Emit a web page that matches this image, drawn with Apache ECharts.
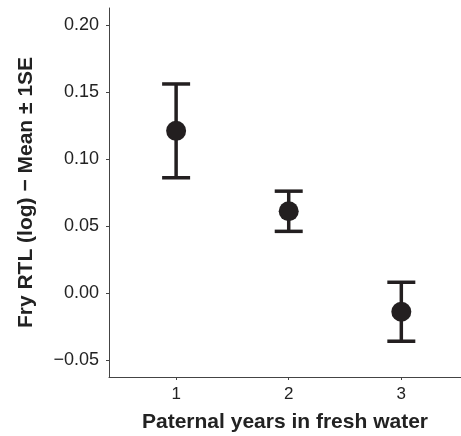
<!DOCTYPE html>
<html>
<head>
<meta charset="utf-8">
<script src="https://cdn.jsdelivr.net/npm/echarts@6/dist/echarts.min.js"></script>
<style>
html, body { margin: 0; padding: 0; background: #fff; }
#chart { width: 461px; height: 436px; }
</style>
</head>
<body>
<div id="chart"></div>
<script>
var years = [1, 2, 3];
var means = [0.121, 0.061, -0.014];
var upper = [0.156, 0.076, 0.008];
var lower = [0.086, 0.046, -0.036];
var yTicks = [-0.05, 0, 0.05, 0.10, 0.15, 0.20];
var xTicks = [1, 2, 3];

var myChart = echarts.init(document.getElementById('chart'));

var barData = [];
var pointData = [];
for (var i = 0; i < years.length; i++) {
    barData.push([years[i], lower[i], upper[i]]);
    pointData.push([years[i], means[i]]);
}

var option = {
    animation: false,
    grid: { left: 109, top: 8, right: 0, bottom: 59, outerBoundsMode: 'none', containLabel: false },
    xAxis: {
        type: 'value',
        min: 0.404,
        max: 3.53,
        name: 'Paternal years in fresh water',
        nameLocation: 'middle',
        nameGap: 35,
        nameTextStyle: { fontSize: 21, fontWeight: 'bold', color: '#222', fontFamily: 'Liberation Sans' },
        axisLine: { onZero: false, lineStyle: { color: '#444', width: 1 } },
        axisTick: { show: true, length: 3, customValues: xTicks, lineStyle: { color: '#444' } },
        axisLabel: { customValues: xTicks, fontSize: 17, color: '#222', margin: 9, fontFamily: 'Liberation Sans' },
        splitLine: { show: false }
    },
    yAxis: {
        type: 'value',
        min: -0.0627,
        max: 0.2127,
        name: 'Fry RTL (log) \u2212 Mean \u00b1 1SE',
        nameLocation: 'middle',
        nameGap: 72,
        nameTextStyle: { fontSize: 21, fontWeight: 'bold', color: '#222', fontFamily: 'Liberation Sans' },
        axisLine: { show: true, lineStyle: { color: '#444', width: 1 } },
        axisTick: { show: true, length: 3, customValues: yTicks, lineStyle: { color: '#444' } },
        axisLabel: {
            customValues: yTicks,
            fontSize: 18,
            color: '#222',
            margin: 10,
            fontFamily: 'Liberation Sans',
            formatter: function (v) {
                var s = Math.abs(v).toFixed(2);
                return v < -1e-9 ? '\u2212' + s : s;
            }
        },
        splitLine: { show: false }
    },
    series: [
        {
            type: 'custom',
            data: barData,
            renderItem: function (params, api) {
                var x = api.value(0);
                var lo = api.coord([x, api.value(1)]);
                var hi = api.coord([x, api.value(2)]);
                var half = 14;
                var style = { stroke: '#231f20', lineWidth: 3.5 };
                return {
                    type: 'group',
                    children: [
                        { type: 'line', shape: { x1: hi[0], y1: hi[1], x2: lo[0], y2: lo[1] }, style: style },
                        { type: 'line', shape: { x1: hi[0] - half, y1: hi[1], x2: hi[0] + half, y2: hi[1] }, style: style },
                        { type: 'line', shape: { x1: lo[0] - half, y1: lo[1], x2: lo[0] + half, y2: lo[1] }, style: style }
                    ]
                };
            },
            z: 2
        },
        {
            type: 'scatter',
            data: pointData,
            symbol: 'circle',
            symbolSize: 20,
            itemStyle: { color: '#231f20', opacity: 1 },
            z: 3
        }
    ]
};

myChart.setOption(option);
</script>
</body>
</html>
